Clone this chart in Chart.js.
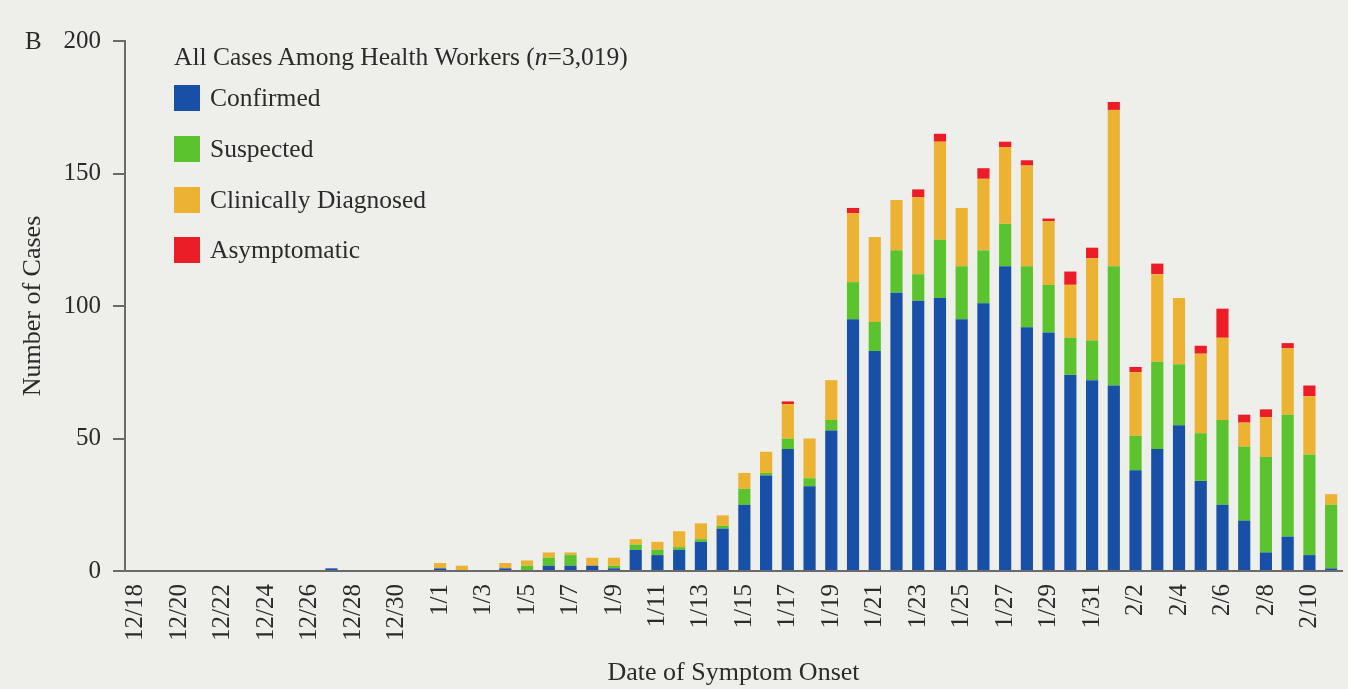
<!DOCTYPE html>
<html>
<head>
<meta charset="utf-8">
<script src="https://cdn.jsdelivr.net/npm/chart.js@4/dist/chart.umd.min.js"></script>
<style>
  body { margin: 0; background: #eeeeea; }
  #wrap { position: relative; width: 1348px; height: 689px; font-family: "Liberation Serif", "DejaVu Serif", serif; color: #2b2b2b; }
  #panel { position: absolute; left: 25px; top: 26px; font-size: 25px; line-height: 30px; }
  #legend { position: absolute; left: 174px; top: 0; font-size: 25.5px; }
  .row { position: absolute; left: 0; height: 30px; line-height: 30px; white-space: nowrap; }
  .sw { position: absolute; left: 0; top: 2px; width: 26px; height: 26px; }
  .lbl { position: absolute; left: 36px; top: 0; }
</style>
</head>
<body>
<div id="wrap">
  <canvas id="epiChart"></canvas>
  <div id="panel">B</div>
  <div id="legend"></div>
</div>
<script>
const dates = [
  '12/18','12/19','12/20','12/21','12/22','12/23','12/24','12/25','12/26','12/27','12/28','12/29','12/30','12/31',
  '1/1','1/2','1/3','1/4','1/5','1/6','1/7','1/8','1/9','1/10','1/11','1/12','1/13','1/14','1/15','1/16',
  '1/17','1/18','1/19','1/20','1/21','1/22','1/23','1/24','1/25','1/26','1/27','1/28','1/29','1/30','1/31',
  '2/1','2/2','2/3','2/4','2/5','2/6','2/7','2/8','2/9','2/10','2/11'
];

const confirmed = [
  0,0,0,0,0,0,0,0,0,1,0,0,0,0,
  1,0,0,1,0,2,2,2,1,8, 6,8,11,16,25,36,46,32,53,95, 83,105,102,103,95,101,115,92,90,74, 72,
  70,38,46,55,34,25,19,7,13,6,1
];
const suspected = [
  0,0,0,0,0,0,0,0,0,0,0,0,0,0,
  0,0,0,0,2,3,4,0,1,2, 2,1,1,1,6,1,4,3,4,14, 11,16,10,22,20,20,16,23,18,14, 15,
  45,13,33,23,18,32,28,36,46,38,24
];
const clinical = [
  0,0,0,0,0,0,0,0,0,0,0,0,0,0,
  2,2,0,2,2,2,1,3,3,2, 3,6,6,4,6,8,13,15,15,26, 32,19,29,37,22,27,29,38,24,20, 31,
  59,24,33,25,30,31,9,15,25,22,4
];
const asymptomatic = [
  0,0,0,0,0,0,0,0,0,0,0,0,0,0,
  0,0,0,0,0,0,0,0,0,0, 0,0,0,0,0,0,1,0,0,2, 0,0,3,3,0,4,2,2,1,5, 4,
  3,2,4,0,3,11,3,3,2,4,0
];

const seriesNames = ['Confirmed', 'Suspected', 'Clinically Diagnosed', 'Asymptomatic'];
const seriesColors = ['#1750a6', '#5ac32d', '#ecb232', '#eb1e28'];
const seriesData = [confirmed, suspected, clinical, asymptomatic];

const yTicks = [0, 50, 100, 150, 200];
const legendTitle = 'All Cases Among Health Workers (<i>n</i>=3,019)';

// legend built in html so the italic n works
const legendEl = document.getElementById('legend');
const titleRow = document.createElement('div');
titleRow.className = 'row';
titleRow.style.top = '42px';
titleRow.innerHTML = legendTitle;
legendEl.appendChild(titleRow);
const rowCenters = [98, 149, 200, 250];
seriesNames.forEach((name, i) => {
  const row = document.createElement('div');
  row.className = 'row';
  row.style.top = (rowCenters[i] - 15) + 'px';
  row.innerHTML = '<span class="sw" style="background:' + seriesColors[i] + '"></span><span class="lbl">' + name + '</span>';
  legendEl.appendChild(row);
});

const serif = "'Liberation Serif', 'DejaVu Serif', serif";
const axisGray = '#6a6a6a';
const textCol = '#2b2b2b';

const chart = new Chart(document.getElementById('epiChart'), {
  type: 'bar',
  data: {
    labels: dates,
    datasets: seriesData.map((d, i) => ({
      label: seriesNames[i],
      data: d,
      backgroundColor: seriesColors[i],
      borderWidth: 0,
      barPercentage: 0.56,
      categoryPercentage: 1.0
    }))
  },
  options: {
    responsive: true,
    maintainAspectRatio: false,
    animation: false,
    layout: { padding: { top: 41, right: 6, left: 0, bottom: 0 } },
    plugins: {
      legend: { display: false },
      tooltip: { enabled: false }
    },
    scales: {
      x: {
        stacked: true,
        grid: { display: false, drawTicks: false },
        border: { display: true, color: axisGray, width: 2 },
        ticks: {
          autoSkip: false,
          minRotation: 90,
          maxRotation: 90,
          padding: 13,
          color: textCol,
          font: { family: serif, size: 25 },
          callback: (v, i) => (i % 2 === 0 ? dates[i] : '')
        },
        title: {
          display: true,
          text: 'Date of Symptom Onset',
          color: textCol,
          font: { family: serif, size: 26 },
          padding: { top: 0, bottom: 0 }
        },
        afterFit: (s) => { s.height = 118; s.paddingLeft = 0; s.paddingRight = 0; }
      },
      y: {
        stacked: true,
        min: 0,
        max: 200,
        afterBuildTicks: (s) => { s.ticks = yTicks.map(v => ({ value: v })); },
        grid: { drawOnChartArea: false, drawTicks: true, tickLength: 12, color: axisGray, lineWidth: 2 },
        border: { display: true, color: axisGray, width: 2 },
        ticks: {
          padding: 12,
          color: textCol,
          font: { family: serif, size: 25 }
        },
        title: {
          display: true,
          text: 'Number of Cases',
          color: textCol,
          font: { family: serif, size: 26 },
          padding: { top: 18, bottom: 0 }
        },
        afterFit: (s) => { s.width = 125; s.paddingTop = 0; s.paddingBottom = 0; }
      }
    }
  }
});
</script>
</body>
</html>
